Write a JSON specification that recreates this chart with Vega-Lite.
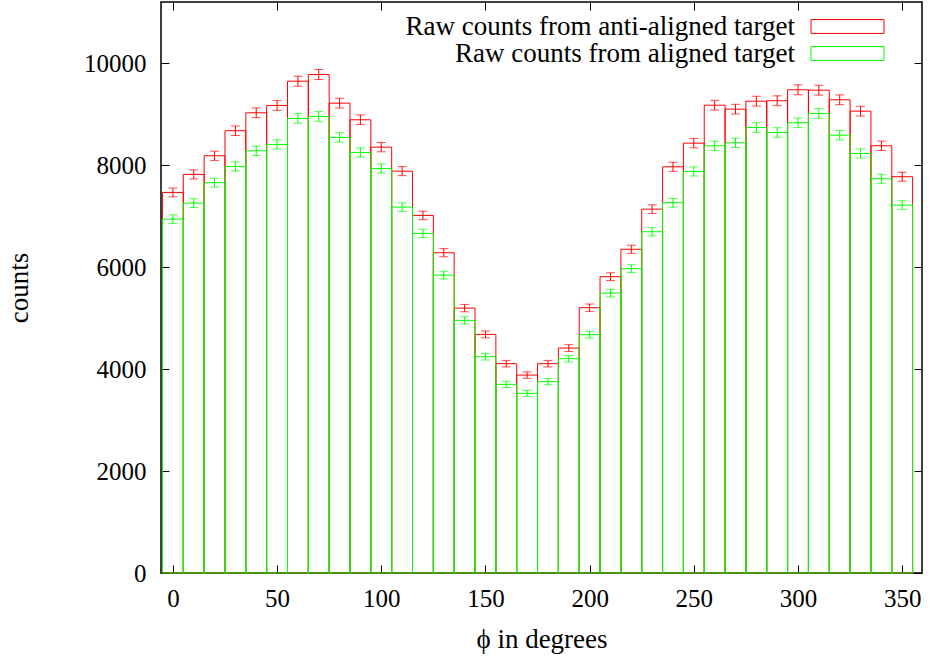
{
  "$schema": "https://vega.github.io/schema/vega-lite/v6.json",
  "width": 761,
  "height": 571,
  "autosize": {"type": "none"},
  "padding": {"left": 161, "top": 2, "right": 8, "bottom": 90},
  "background": "white",
  "config": {
    "view": {"stroke": "#000", "strokeWidth": 1.5},
    "axis": {
      "grid": false,
      "domain": false,
      "tickColor": "#000",
      "tickSize": -8,
      "tickWidth": 1,
      "labelFont": "Liberation Serif",
      "labelFontSize": 25,
      "labelColor": "#000",
      "titleFont": "Liberation Serif",
      "titleFontSize": 27,
      "titleFontWeight": "normal",
      "titleColor": "#000"
    }
  },
  "data": {
    "values": [
      {"phi": 0, "series": "Raw counts from anti-aligned target", "counts": 7465, "err": 86.4},
      {"phi": 10, "series": "Raw counts from anti-aligned target", "counts": 7818, "err": 88.4},
      {"phi": 20, "series": "Raw counts from anti-aligned target", "counts": 8184, "err": 90.5},
      {"phi": 30, "series": "Raw counts from anti-aligned target", "counts": 8675, "err": 93.1},
      {"phi": 40, "series": "Raw counts from anti-aligned target", "counts": 9027, "err": 95.0},
      {"phi": 50, "series": "Raw counts from anti-aligned target", "counts": 9171, "err": 95.8},
      {"phi": 60, "series": "Raw counts from anti-aligned target", "counts": 9647, "err": 98.2},
      {"phi": 70, "series": "Raw counts from anti-aligned target", "counts": 9778, "err": 98.9},
      {"phi": 80, "series": "Raw counts from anti-aligned target", "counts": 9216, "err": 96.0},
      {"phi": 90, "series": "Raw counts from anti-aligned target", "counts": 8890, "err": 94.3},
      {"phi": 100, "series": "Raw counts from anti-aligned target", "counts": 8353, "err": 91.4},
      {"phi": 110, "series": "Raw counts from anti-aligned target", "counts": 7882, "err": 88.8},
      {"phi": 120, "series": "Raw counts from anti-aligned target", "counts": 7014, "err": 83.7},
      {"phi": 130, "series": "Raw counts from anti-aligned target", "counts": 6282, "err": 79.3},
      {"phi": 140, "series": "Raw counts from anti-aligned target", "counts": 5196, "err": 72.1},
      {"phi": 150, "series": "Raw counts from anti-aligned target", "counts": 4680, "err": 68.4},
      {"phi": 160, "series": "Raw counts from anti-aligned target", "counts": 4106, "err": 64.1},
      {"phi": 170, "series": "Raw counts from anti-aligned target", "counts": 3882, "err": 62.3},
      {"phi": 180, "series": "Raw counts from anti-aligned target", "counts": 4106, "err": 64.1},
      {"phi": 190, "series": "Raw counts from anti-aligned target", "counts": 4412, "err": 66.4},
      {"phi": 200, "series": "Raw counts from anti-aligned target", "counts": 5204, "err": 72.1},
      {"phi": 210, "series": "Raw counts from anti-aligned target", "counts": 5812, "err": 76.2},
      {"phi": 220, "series": "Raw counts from anti-aligned target", "counts": 6350, "err": 79.7},
      {"phi": 230, "series": "Raw counts from anti-aligned target", "counts": 7137, "err": 84.5},
      {"phi": 240, "series": "Raw counts from anti-aligned target", "counts": 7968, "err": 89.3},
      {"phi": 250, "series": "Raw counts from anti-aligned target", "counts": 8431, "err": 91.8},
      {"phi": 260, "series": "Raw counts from anti-aligned target", "counts": 9176, "err": 95.8},
      {"phi": 270, "series": "Raw counts from anti-aligned target", "counts": 9098, "err": 95.4},
      {"phi": 280, "series": "Raw counts from anti-aligned target", "counts": 9255, "err": 96.2},
      {"phi": 290, "series": "Raw counts from anti-aligned target", "counts": 9263, "err": 96.2},
      {"phi": 300, "series": "Raw counts from anti-aligned target", "counts": 9478, "err": 97.4},
      {"phi": 310, "series": "Raw counts from anti-aligned target", "counts": 9471, "err": 97.3},
      {"phi": 320, "series": "Raw counts from anti-aligned target", "counts": 9282, "err": 96.3},
      {"phi": 330, "series": "Raw counts from anti-aligned target", "counts": 9059, "err": 95.2},
      {"phi": 340, "series": "Raw counts from anti-aligned target", "counts": 8380, "err": 91.5},
      {"phi": 350, "series": "Raw counts from anti-aligned target", "counts": 7773, "err": 88.2},
      {"phi": 0, "series": "Raw counts from aligned target", "counts": 6941, "err": 83.3},
      {"phi": 10, "series": "Raw counts from aligned target", "counts": 7255, "err": 85.2},
      {"phi": 20, "series": "Raw counts from aligned target", "counts": 7655, "err": 87.5},
      {"phi": 30, "series": "Raw counts from aligned target", "counts": 7975, "err": 89.3},
      {"phi": 40, "series": "Raw counts from aligned target", "counts": 8282, "err": 91.0},
      {"phi": 50, "series": "Raw counts from aligned target", "counts": 8406, "err": 91.7},
      {"phi": 60, "series": "Raw counts from aligned target", "counts": 8916, "err": 94.4},
      {"phi": 70, "series": "Raw counts from aligned target", "counts": 8955, "err": 94.6},
      {"phi": 80, "series": "Raw counts from aligned target", "counts": 8543, "err": 92.4},
      {"phi": 90, "series": "Raw counts from aligned target", "counts": 8249, "err": 90.8},
      {"phi": 100, "series": "Raw counts from aligned target", "counts": 7935, "err": 89.1},
      {"phi": 110, "series": "Raw counts from aligned target", "counts": 7177, "err": 84.7},
      {"phi": 120, "series": "Raw counts from aligned target", "counts": 6661, "err": 81.6},
      {"phi": 130, "series": "Raw counts from aligned target", "counts": 5843, "err": 76.4},
      {"phi": 140, "series": "Raw counts from aligned target", "counts": 4955, "err": 70.4},
      {"phi": 150, "series": "Raw counts from aligned target", "counts": 4243, "err": 65.1},
      {"phi": 160, "series": "Raw counts from aligned target", "counts": 3700, "err": 60.8},
      {"phi": 170, "series": "Raw counts from aligned target", "counts": 3524, "err": 59.4},
      {"phi": 180, "series": "Raw counts from aligned target", "counts": 3753, "err": 61.3},
      {"phi": 190, "series": "Raw counts from aligned target", "counts": 4204, "err": 64.8},
      {"phi": 200, "series": "Raw counts from aligned target", "counts": 4675, "err": 68.4},
      {"phi": 210, "series": "Raw counts from aligned target", "counts": 5490, "err": 74.1},
      {"phi": 220, "series": "Raw counts from aligned target", "counts": 5969, "err": 77.3},
      {"phi": 230, "series": "Raw counts from aligned target", "counts": 6694, "err": 81.8},
      {"phi": 240, "series": "Raw counts from aligned target", "counts": 7263, "err": 85.2},
      {"phi": 250, "series": "Raw counts from aligned target", "counts": 7876, "err": 88.7},
      {"phi": 260, "series": "Raw counts from aligned target", "counts": 8380, "err": 91.5},
      {"phi": 270, "series": "Raw counts from aligned target", "counts": 8439, "err": 91.9},
      {"phi": 280, "series": "Raw counts from aligned target", "counts": 8739, "err": 93.5},
      {"phi": 290, "series": "Raw counts from aligned target", "counts": 8641, "err": 93.0},
      {"phi": 300, "series": "Raw counts from aligned target", "counts": 8831, "err": 94.0},
      {"phi": 310, "series": "Raw counts from aligned target", "counts": 9014, "err": 94.9},
      {"phi": 320, "series": "Raw counts from aligned target", "counts": 8588, "err": 92.7},
      {"phi": 330, "series": "Raw counts from aligned target", "counts": 8229, "err": 90.7},
      {"phi": 340, "series": "Raw counts from aligned target", "counts": 7733, "err": 87.9},
      {"phi": 350, "series": "Raw counts from aligned target", "counts": 7216, "err": 84.9}
    ]
  },
  "layer": [
    {
      "transform": [
        {"bin": {"step": 10, "extent": [-5, 355], "nice": false}, "field": "phi", "as": "b"}
      ],
      "mark": {"type": "rect", "filled": false, "strokeWidth": 1},
      "encoding": {
        "x": {
          "field": "b", "type": "quantitative",
          "scale": {"domain": [-5.7, 359.5], "nice": false, "zero": false},
          "axis": {"orient": "bottom", "values": [0, 50, 100, 150, 200, 250, 300, 350], "title": "ϕ in degrees", "labelPadding": 21, "titlePadding": 15}
        },
        "x2": {"field": "b_end"},
        "y": {
          "field": "counts", "type": "quantitative",
          "scale": {"domain": [0, 11200], "nice": false},
          "axis": {"orient": "left", "values": [0, 2000, 4000, 6000, 8000, 10000], "title": "counts", "labelPadding": 23, "titlePadding": 50, "format": "d"}
        },
        "y2": {"datum": 0},
        "color": {
          "field": "series", "type": "nominal",
          "scale": {"domain": ["Raw counts from anti-aligned target", "Raw counts from aligned target"], "range": ["#ff0000", "#00ff00"]},
          "legend": {
            "orient": "none", "legendX": 673, "legendY": 11, "title": null,
            "symbolType": "M-3,-0.57L3,-0.57L3,0.57L-3,0.57Z", "symbolSize": 592,
            "symbolStrokeWidth": 1, "symbolFillColor": "transparent",
            "labelAlign": "right", "labelOffset": -66, "labelLimit": 0,
            "labelFont": "Liberation Serif", "labelFontSize": 27, "labelColor": "#000",
            "rowPadding": -3
          }
        }
      }
    },
    {
      "mark": {"type": "errorbar", "ticks": {"size": 9}, "thickness": 1},
      "encoding": {
        "x": {"field": "phi", "type": "quantitative", "axis": {"orient": "top", "labels": false, "title": null, "values": [0, 50, 100, 150, 200, 250, 300, 350]}},
        "y": {"field": "counts", "type": "quantitative", "axis": {"orient": "right", "labels": false, "title": null, "values": [0, 2000, 4000, 6000, 8000, 10000]}},
        "yError": {"field": "err"},
        "color": {
          "field": "series", "type": "nominal", "legend": null,
          "scale": {"domain": ["Raw counts from anti-aligned target", "Raw counts from aligned target"], "range": ["#ff0000", "#00ff00"]}
        }
      }
    }
  ],
  "resolve": {"axis": {"x": "independent", "y": "independent"}, "scale": {"color": "independent"}}
}
